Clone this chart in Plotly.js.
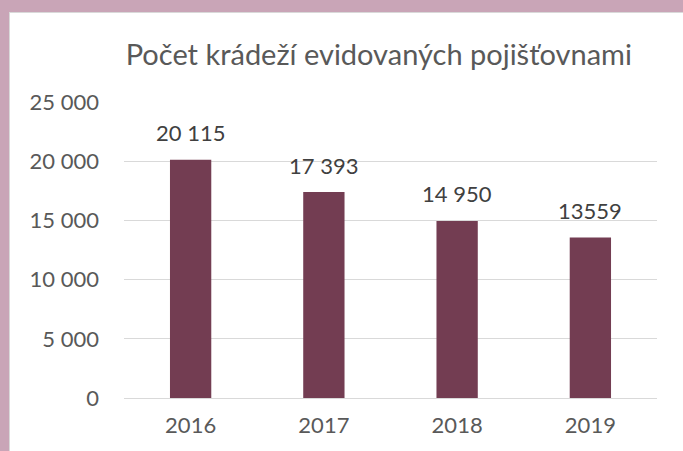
<!DOCTYPE html>
<html>
<head>
<meta charset="utf-8">
<script src="https://cdn.plot.ly/plotly-3.0.1.min.js"></script>
<style>
  html, body { margin: 0; padding: 0; background: #C9A5B7; width: 683px; height: 451px; overflow: hidden; }
  #chart { position: absolute; left: 9px; top: 12px; width: 673px; height: 438px;
           border-left: 1px solid #D9D9D9; border-top: 1px solid #D9D9D9; background: #fff; }
</style>
</head>
<body>
<div id="chart"></div>
<script>
const categories = ['2016', '2017', '2018', '2019'];
const values = [20115, 17393, 14950, 13559];
const valueLabels = ['20 115', '17 393', '14 950', '13559'];
const yTickValues = [0, 5000, 10000, 15000, 20000, 25000];
const yTickLabels = ['0', '5 000', '10 000', '15 000', '20 000', '25 000'];

const FONT = 'Lato, sans-serif';

const trace = {
  type: 'bar',
  x: categories,
  y: values,
  marker: { color: '#733D52' },
  hoverinfo: 'skip'
};

const annotations = categories.map((c, i) => ({
  x: i,
  y: values[i],
  xref: 'x',
  yref: 'y',
  text: valueLabels[i],
  showarrow: false,
  xanchor: 'center',
  yanchor: 'middle',
  yshift: 27,
  font: { family: FONT, size: 22, color: '#404040' }
}));

const layout = {
  width: 673,
  height: 438,
  margin: { l: 114, r: 26, t: 89, b: 53 },
  paper_bgcolor: '#ffffff',
  plot_bgcolor: '#ffffff',
  bargap: 0.69,
  showlegend: false,
  annotations: annotations,
  title: {
    text: 'Počet krádeží evidovaných pojišťovnami',
    font: { family: FONT, size: 29, color: '#595959' },
    x: 0.548, xanchor: 'center', xref: 'container',
    y: 0.904, yanchor: 'middle', yref: 'container'
  },
  xaxis: {
    type: 'category',
    categoryarray: categories,
    range: [-0.5, categories.length - 0.5],
    showgrid: false,
    showline: false,
    zeroline: false,
    ticks: '',
    ticklabelstandoff: 12,
    tickfont: { family: FONT, size: 22, color: '#595959' }
  },
  yaxis: {
    range: [0, 25000],
    tickvals: yTickValues,
    ticktext: yTickLabels,
    showgrid: true,
    gridcolor: '#D9D9D9',
    gridwidth: 1,
    zeroline: true,
    zerolinecolor: '#D9D9D9',
    zerolinewidth: 1,
    showline: false,
    ticks: '',
    ticklabelstandoff: 24,
    tickfont: { family: FONT, size: 22, color: '#595959' }
  }
};

Plotly.newPlot('chart', [trace], layout, { displayModeBar: false, staticPlot: true });
</script>
</body>
</html>
